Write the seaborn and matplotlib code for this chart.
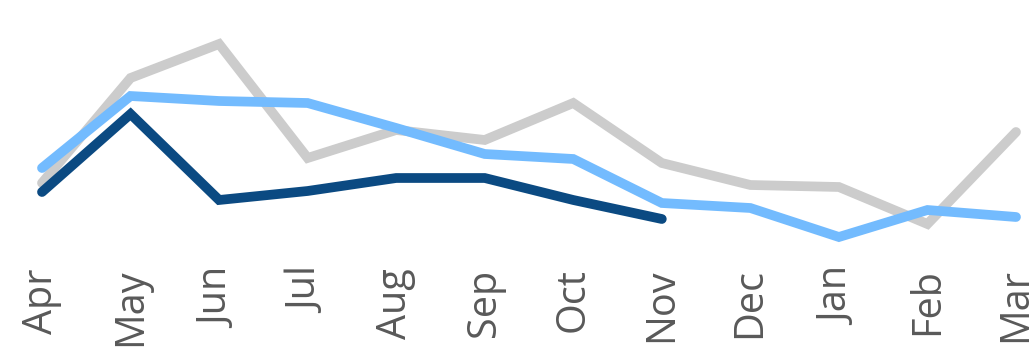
import matplotlib
matplotlib.use("Agg")
import matplotlib.pyplot as plt
import seaborn as sns
import pandas as pd

months = ["Apr", "May", "Jun", "Jul", "Aug", "Sep", "Oct", "Nov", "Dec", "Jan", "Feb", "Mar"]
prior_year = [77, 182, 216, 102, 130, 120, 157, 97, 75, 73, 36, 128]
target = [92, 164, 159, 157, 132, 106, 101, 57, 52, 23, 50, 43]
current_year = [68, 146, 60, 69, 82, 82, 60, 41]

sns.set_theme(style="white")
plt.rcParams["font.family"] = ["Open Sans", "DejaVu Sans"]

fig = plt.figure(figsize=(10.36, 3.54), dpi=100)
ax = fig.add_axes([0, 94 / 354, 1, 260 / 354])

series = [
    (prior_year, "#cccccc", 1),
    (target, "#73bbfe", 2),
    (current_year, "#0b4a82", 3),
]
for values, color, z in series:
    df = pd.DataFrame({"month": list(range(len(values))), "value": values})
    sns.lineplot(data=df, x="month", y="value", ax=ax, color=color,
                 linewidth=7, zorder=z, sort=False,
                 solid_capstyle="round", solid_joinstyle="miter")

ax.set_xlim(-42 / 88.55, 11 + 20 / 88.55)
ax.set_ylim(0, 260)
ax.set_xticks(range(len(months)))
ax.set_xticklabels(months, rotation=90, fontsize=28.5, color="#595959")
ax.tick_params(axis="x", length=0, pad=6)
ax.set_yticks([])
ax.set_xlabel("")
ax.set_ylabel("")
for s in ax.spines.values():
    s.set_visible(False)

fig.savefig("out.png", dpi=100)
